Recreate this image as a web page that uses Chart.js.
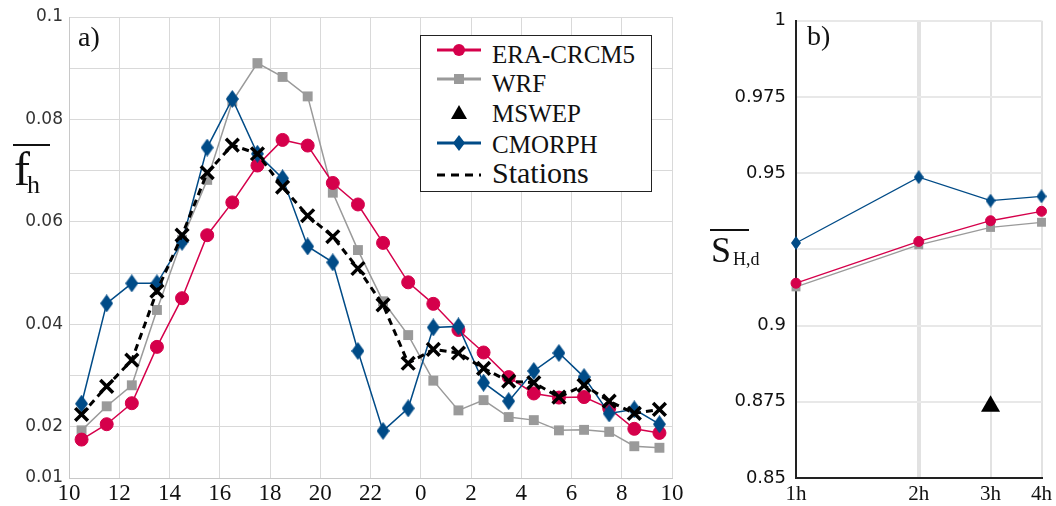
<!DOCTYPE html>
<html lang="en">
<head>
<meta charset="UTF-8">
<title>Diurnal cycle</title>
<script src="https://cdn.jsdelivr.net/npm/chart.js"></script>
<style>
    body { margin: 0; background: #fff; }
    #wrap { position: relative; width: 1056px; height: 506px; overflow: hidden; background: #fff; }
    .chart { position: absolute; top: 0; }
    .txt { position: absolute; font-family: 'Liberation Serif', serif; color: #111; white-space: nowrap; }
    .bar { position: absolute; height: 2px; background: #111; }
    #legend { position: absolute; left: 420px; top: 35px; width: 232px; height: 157px; box-sizing: border-box;
              border: 1.5px solid #222; background: #fff; }
    .icon { position: absolute; }
</style>
</head>
<body>
<div id="wrap">
    <canvas id="chartA" class="chart" width="690" height="506" style="left:0"></canvas>
    <canvas id="chartB" class="chart" width="366" height="506" style="left:690px"></canvas>

    <div class="txt" style="left:78px;top:23px;font-size:28px;line-height:28px">a)</div>
    <div class="txt" style="left:807px;top:22px;font-size:28px;line-height:28px">b)</div>

    <!-- y titles -->
    <div class="bar" style="left:13px;top:144px;width:37px"></div>
    <div class="txt" style="left:14px;top:145px;font-size:48px;line-height:48px">f</div>
    <div class="txt" style="left:27px;top:172px;font-size:26px;line-height:26px">h</div>

    <div class="bar" style="left:710px;top:229px;width:39px"></div>
    <div class="txt" style="left:711px;top:232px;font-size:36px;line-height:36px">S</div>
    <div class="txt" style="left:733px;top:250px;font-size:18px;line-height:18px">H,d</div>

    <div id="legend"></div>
</div>

<script>
    // hours of the day (local), centred on each hourly bin, starting 10:30
    const hours = [10.5, 11.5, 12.5, 13.5, 14.5, 15.5, 16.5, 17.5, 18.5, 19.5, 20.5, 21.5,
                   22.5, 23.5, 24.5, 25.5, 26.5, 27.5, 28.5, 29.5, 30.5, 31.5, 32.5, 33.5]
    const hourTicks = [10, 12, 14, 16, 18, 20, 22, 24, 26, 28, 30, 32, 34]
    const fhLabels = [0.01, 0.02, 0.04, 0.06, 0.08, 0.1]

    const eraA = [0.0175, 0.0205, 0.0246, 0.0356, 0.0451, 0.0574, 0.0638, 0.0710, 0.0760, 0.0749, 0.0676, 0.0634,
                  0.0559, 0.0482, 0.0440, 0.0389, 0.0345, 0.0297, 0.0265, 0.0257, 0.0258, 0.0236, 0.0196, 0.0188]
    const wrfA = [0.0193, 0.0240, 0.0281, 0.0428, 0.0565, 0.0682, 0.0835, 0.0910, 0.0883, 0.0845, 0.0657, 0.0545,
                  0.0445, 0.0379, 0.0290, 0.0232, 0.0252, 0.0219, 0.0213, 0.0193, 0.0194, 0.0190, 0.0162, 0.0159]
    const cmorphA = [0.0245, 0.0441, 0.0480, 0.0480, 0.0561, 0.0745, 0.0840, 0.0733, 0.0685, 0.0552, 0.0521, 0.0348,
                     0.0192, 0.0236, 0.0394, 0.0396, 0.0286, 0.0250, 0.0309, 0.0344, 0.0297, 0.0226, 0.0234, 0.0205]
    const stationsA = [0.0224, 0.0279, 0.0330, 0.0465, 0.0574, 0.0696, 0.0750, 0.0733, 0.0668, 0.0612, 0.0571, 0.0509,
                       0.0438, 0.0324, 0.0351, 0.0344, 0.0314, 0.0289, 0.0286, 0.0258, 0.0281, 0.0250, 0.0226, 0.0234]

    // panel b: accumulation resolution (h)
    const resolutions = [1, 2, 3, 4]
    const shdLabels = [0.85, 0.875, 0.9, 0.95, 0.975, 1]
    const eraB = [0.9139, 0.9276, 0.9344, 0.9375]
    const wrfB = [0.9127, 0.9265, 0.9322, 0.9339]
    const cmorphB = [0.9271, 0.9487, 0.9410, 0.9424]
    const mswepB = [null, null, 0.8735, null]

    const seriesNames = ['ERA-CRCM5', 'WRF', 'MSWEP', 'CMORPH', 'Stations']

    const RED = '#d5004b', GRAY = '#9a9a9a', BLUE = '#004b87', BLACK = '#000'

    function makeDiamond(w, h, color) {
        const c = document.createElement('canvas')
        c.width = w; c.height = h
        const g = c.getContext('2d')
        g.fillStyle = color
        g.beginPath()
        g.moveTo(w / 2, 0); g.lineTo(w, h / 2); g.lineTo(w / 2, h); g.lineTo(0, h / 2)
        g.closePath(); g.fill()
        return c
    }

    const pts = (xs, ys) => xs.map((x, i) => ({ x: x, y: ys[i] }))
    const near = (list, v) => list.some(t => Math.abs(t - v) < 1e-9)

    // ---------- panel a ----------
    new Chart(document.getElementById('chartA'), {
        type: 'line',
        data: {
            datasets: [
                {
                    label: 'Stations', data: pts(hours, stationsA), order: 0,
                    borderColor: BLACK, borderWidth: 3, borderDash: [7, 5],
                    pointStyle: 'crossRot', pointRadius: 9, pointBorderWidth: 3.5,
                    pointBorderColor: BLACK, backgroundColor: BLACK
                },
                {
                    label: 'CMORPH', data: pts(hours, cmorphA), order: 1,
                    borderColor: BLUE, borderWidth: 1.5,
                    pointStyle: makeDiamond(13, 18, BLUE), pointRadius: 8
                },
                {
                    label: 'ERA-CRCM5', data: pts(hours, eraA), order: 2,
                    borderColor: RED, borderWidth: 1.5, backgroundColor: RED,
                    pointStyle: 'circle', pointRadius: 6.5, pointBorderWidth: 1, pointBorderColor: RED
                },
                {
                    label: 'WRF', data: pts(hours, wrfA), order: 3,
                    borderColor: GRAY, borderWidth: 1.5, backgroundColor: GRAY,
                    pointStyle: 'rect', pointRadius: 7, pointBorderWidth: 0
                }
            ]
        },
        options: {
            responsive: false, animation: false, devicePixelRatio: 1,
            clip: false,
            layout: { padding: { top: 17, right: 18, left: 0, bottom: 0 } },
            plugins: { legend: { display: false }, tooltip: { enabled: false } },
            scales: {
                x: {
                    type: 'linear', min: 10, max: 34,
                    afterFit: s => { s.height = 28 },
                    afterBuildTicks: s => { s.ticks = hourTicks.map(v => ({ value: v })) },
                    ticks: {
                        callback: v => String(v % 24), padding: 2, color: '#111',
                        font: { family: 'Liberation Serif', size: 23 }, maxRotation: 0, autoSkip: false
                    },
                    grid: { color: '#d9d9d9', lineWidth: 1, drawTicks: false },
                    border: { color: '#c8c8c8', width: 1 }
                },
                y: {
                    min: 0.01, max: 0.1,
                    afterFit: s => { s.width = 69 },
                    ticks: {
                        stepSize: 0.01, padding: 6, color: '#333', autoSkip: false,
                        font: { family: 'DejaVu Sans', size: 17 },
                        callback: v => near(fhLabels, v) ? String(+v.toFixed(2)) : ''
                    },
                    grid: { color: '#d9d9d9', lineWidth: 1, drawTicks: false },
                    border: { color: '#c8c8c8', width: 1 }
                }
            }
        }
    })

    // ---------- panel b ----------
    new Chart(document.getElementById('chartB'), {
        type: 'line',
        data: {
            datasets: [
                {
                    label: 'MSWEP', data: pts(resolutions, mswepB), order: 0, showLine: false,
                    pointStyle: 'triangle', pointRadius: 11, backgroundColor: BLACK, pointBorderWidth: 0
                },
                {
                    label: 'CMORPH', data: pts(resolutions, cmorphB), order: 1,
                    borderColor: BLUE, borderWidth: 1.3,
                    pointStyle: makeDiamond(10, 14, BLUE), pointRadius: 7
                },
                {
                    label: 'ERA-CRCM5', data: pts(resolutions, eraB), order: 2,
                    borderColor: RED, borderWidth: 1.3, backgroundColor: RED,
                    pointStyle: 'circle', pointRadius: 5, pointBorderWidth: 1, pointBorderColor: RED
                },
                {
                    label: 'WRF', data: pts(resolutions, wrfB), order: 3,
                    borderColor: GRAY, borderWidth: 1.3, backgroundColor: GRAY,
                    pointStyle: 'rect', pointRadius: 6.3, pointBorderWidth: 0
                }
            ]
        },
        options: {
            responsive: false, animation: false, devicePixelRatio: 1,
            clip: false,
            layout: { padding: { top: 20, right: 14, left: 0, bottom: 0 } },
            plugins: { legend: { display: false }, tooltip: { enabled: false } },
            scales: {
                x: {
                    type: 'logarithmic', min: 1, max: 4,
                    afterFit: s => { s.height = 28 },
                    afterBuildTicks: s => { s.ticks = resolutions.map(v => ({ value: v, major: true })) },
                    ticks: {
                        callback: v => v + 'h', padding: 4, color: '#111', autoSkip: false, maxRotation: 0,
                        font: { family: 'Liberation Serif', size: 21 }
                    },
                    grid: {
                        drawTicks: false,
                        color: c => c.tick && c.tick.value === 1 ? 'rgba(0,0,0,0)' : '#e2e2e2',
                        lineWidth: c => c.tick && c.tick.value === 2 ? 4 : 2
                    },
                    border: { color: '#222', width: 2 }
                },
                y: {
                    min: 0.85, max: 1,
                    afterFit: s => { s.width = 106 },
                    ticks: {
                        stepSize: 0.025, padding: 10, color: '#111', autoSkip: false,
                        font: { family: 'DejaVu Sans', size: 18 },
                        callback: v => near(shdLabels, v) ? String(+v.toFixed(3)) : ''
                    },
                    grid: { color: '#e8e8e8', lineWidth: 2, drawTicks: false },
                    border: { color: '#222', width: 2 }
                }
            }
        }
    })

    // ---------- legend (drawn into panel a) ----------
    const legendRows = [
        { name: seriesNames[0], top: 42, icon: 40, size: 25, kind: 'circle', color: RED },
        { name: seriesNames[1], top: 71, icon: 69, size: 25, kind: 'square', color: GRAY },
        { name: seriesNames[2], top: 101, icon: 103, size: 25, kind: 'triangle', color: BLACK },
        { name: seriesNames[3], top: 132, icon: 133, size: 25, kind: 'diamond', color: BLUE },
        { name: seriesNames[4], top: 158, icon: 165, size: 30, kind: 'dash', color: BLACK }
    ]
    const wrap = document.getElementById('wrap')
    legendRows.forEach(r => {
        const c = document.createElement('canvas')
        c.width = 48; c.height = 20; c.className = 'icon'
        c.style.left = '435px'; c.style.top = r.icon + 'px'
        const g = c.getContext('2d')
        g.fillStyle = r.color; g.strokeStyle = r.color
        if (r.kind !== 'triangle') {
            g.lineWidth = 3
            if (r.kind === 'dash') g.setLineDash([8, 6])
            g.beginPath(); g.moveTo(2, 10); g.lineTo(46, 10); g.stroke()
            g.setLineDash([])
        }
        g.beginPath()
        if (r.kind === 'circle') g.arc(24, 10, 6, 0, Math.PI * 2)
        if (r.kind === 'square') g.rect(19, 5, 10, 10)
        if (r.kind === 'triangle') { g.moveTo(24, 2); g.lineTo(32, 16); g.lineTo(16, 16); g.closePath() }
        if (r.kind === 'diamond') { g.moveTo(24, 2); g.lineTo(30, 10); g.lineTo(24, 18); g.lineTo(18, 10); g.closePath() }
        g.fill()
        wrap.appendChild(c)

        const t = document.createElement('div')
        t.className = 'txt'
        t.style.left = '492px'; t.style.top = r.top + 'px'
        t.style.fontSize = r.size + 'px'; t.style.lineHeight = r.size + 'px'
        t.textContent = r.name
        wrap.appendChild(t)
    })
</script>
</body>
</html>
